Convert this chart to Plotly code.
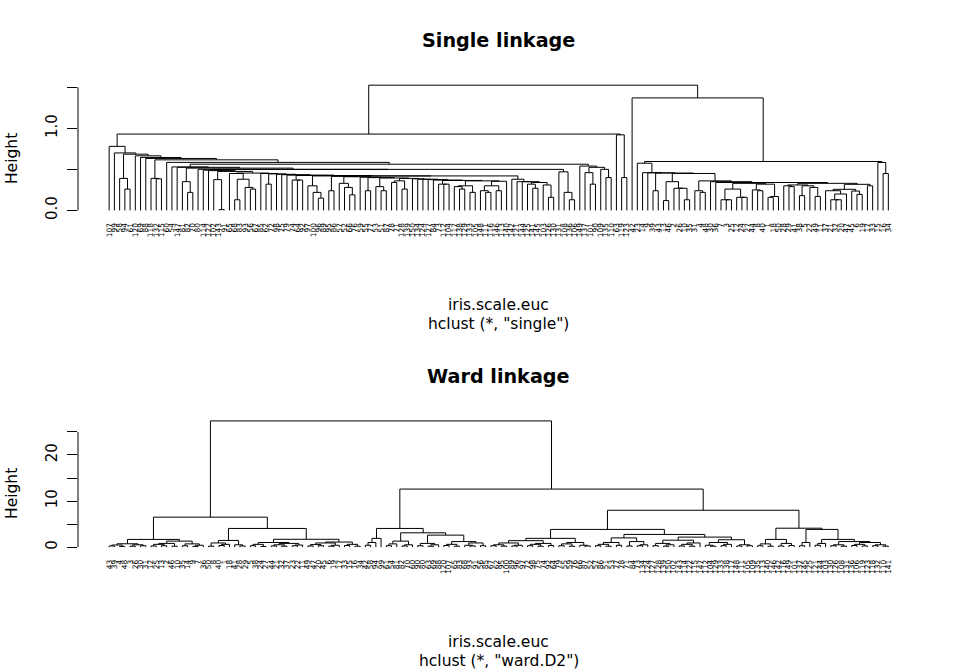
import plotly.graph_objects as go

# ---------------- data ----------------
single_labels = [
    107, 99, 58, 94, 61, 120, 69, 88, 118, 132,
    115, 60, 54, 147, 81, 82, 70, 80, 114, 122,
    102, 143, 91, 65, 68, 83, 93, 56, 67, 85,
    62, 72, 98, 75, 79, 74, 64, 92, 97, 100,
    96, 89, 95, 86, 57, 52, 66, 76, 59, 55,
    77, 53, 51, 87, 78, 71, 128, 139, 150, 134,
    124, 127, 84, 73, 112, 104, 117, 138, 129, 133,
    105, 148, 111, 116, 146, 113, 140, 142, 121, 144,
    125, 141, 145, 103, 126, 130, 131, 108, 136, 106,
    149, 137, 101, 90, 109, 135, 110, 63, 119, 123,
    42, 23, 14, 9, 39, 43, 13, 46, 2, 26,
    10, 35, 31, 4, 48, 30, 36, 7, 3, 25,
    12, 24, 27, 44, 8, 40, 1, 18, 50, 28,
    29, 41, 38, 5, 22, 49, 11, 37, 21, 32,
    20, 47, 45, 6, 19, 17, 33, 15, 16, 34,
]

single_heights = [
    0.78, 0.70, 0.39, 0.26, 0.685, 0.665, 0.645, 0.633, 0.39, 0.385,
    0.616, 0.585, 0.53, 0.525, 0.35, 0.22, 0.515, 0.50, 0.49, 0.485,
    0.375, 0.01, 0.475, 0.45, 0.13, 0.38, 0.28, 0.26, 0.455, 0.45,
    0.32, 0.445, 0.44, 0.435, 0.43, 0.37, 0.37, 0.425, 0.30, 0.22,
    0.15, 0.42, 0.24, 0.415, 0.33, 0.28, 0.19, 0.41, 0.405, 0.24,
    0.40, 0.29, 0.24, 0.395, 0.34, 0.36, 0.26, 0.39, 0.385, 0.38,
    0.38, 0.375, 0.37, 0.32, 0.32, 0.365, 0.29, 0.26, 0.30, 0.22,
    0.36, 0.24, 0.22, 0.30, 0.24, 0.355, 0.42, 0.38, 0.35, 0.35,
    0.32, 0.27, 0.34, 0.31, 0.16, 0.50, 0.47, 0.22, 0.13, 0.563,
    0.54, 0.46, 0.32, 0.525, 0.50, 0.40, 0.93, 0.92, 0.40, 1.525,
    1.37, 0.575, 0.46, 0.458, 0.24, 0.455, 0.12, 0.35, 0.27, 0.27,
    0.13, 0.45, 0.24, 0.22, 0.36, 0.35, 0.34, 0.13, 0.13, 0.26,
    0.16, 0.16, 0.33, 0.25, 0.24, 0.32, 0.16, 0.17, 0.34, 0.30,
    0.29, 0.31, 0.18, 0.30, 0.28, 0.17, 0.33, 0.24, 0.13, 0.13,
    0.20, 0.257, 0.236, 0.196, 0.318, 0.30, 0.596, 0.584, 0.45,
]

ward_labels = [
    43, 39, 4, 48, 3, 26, 30, 31, 12, 25,
    13, 2, 46, 10, 35, 14, 9, 7, 36, 50,
    8, 40, 1, 18, 41, 28, 29, 5, 38, 24,
    27, 44, 21, 32, 37, 23, 22, 11, 49, 47,
    20, 45, 6, 19, 17, 33, 15, 16, 34,
    42, 58, 94, 99, 61, 54, 81, 82, 70, 60,
    90, 80, 63, 69, 88, 120, 107, 65, 83, 68,
    93, 91, 56, 85,
    67, 62, 95, 100, 89, 96, 97, 72, 98, 75,
    74, 92, 64, 79, 55, 59, 76, 66, 87, 52,
    57, 86, 51, 53, 77, 78, 71, 84, 73, 134,
    124, 127, 128, 139, 150, 102, 143, 114, 122, 115,
    147, 112, 104, 129, 133, 138, 117, 148, 111, 105,
    109, 135, 113, 140, 146, 142, 116, 149, 101, 137,
    145, 125, 121, 144, 103, 130, 126, 108, 131, 136,
    106, 119, 123, 118, 132, 110, 141,
]

ward_heights = [
    0.25, 0.45, 0.15, 0.72, 0.20, 0.5, 0.30, 1.67, 0.25, 0.6,
    0.3, 0.8, 0.2, 1.3, 0.3, 0.7, 0.15, 0.4, 6.5, 0.2,
    0.9, 0.35, 0.6, 1.45, 0.5, 0.25, 4.05, 0.3, 0.6, 0.15,
    1.0, 0.25, 0.5, 0.2, 0.8, 0.3, 0.45, 1.7, 0.25, 0.55,
    0.3, 0.9, 0.2, 0.4, 1.1, 0.35, 0.6, 0.2, 27.4, 0.4,
    1.0, 1.9, 4.05, 0.3, 0.7, 1.3, 0.25, 0.5, 3.1, 0.3,
    0.8, 0.2, 0.5, 2.6, 0.35, 0.6, 0.2, 1.2, 0.4, 0.25,
    0.9, 0.3, 12.6, 0.3, 0.5, 0.2, 0.9, 0.25, 0.4, 1.4,
    0.3, 0.6, 0.2, 0.8, 0.35, 1.9, 0.3, 0.7, 0.2, 1.0,
    0.4, 0.25, 3.84, 0.3, 0.6, 0.2, 1.0, 0.4, 2.0, 0.25,
    1.2, 0.3, 0.5, 2.75, 0.3, 0.8, 0.2, 0.5, 1.5, 0.25,
    0.6, 0.2, 0.9, 2.17, 0.4, 0.2, 1.0, 0.3, 0.6, 1.6,
    0.25, 0.5, 0.3, 8.0, 0.3, 0.7, 0.2, 1.67, 0.25, 0.8,
    0.35, 4.1, 0.3, 1.0, 3.84, 0.4, 0.8, 1.67, 0.3, 0.5,
    0.2, 1.2, 0.35, 0.6, 0.25, 1.0, 0.3, 0.5, 0.2,
]

single_yticks = [0.0, 0.5, 1.0, 1.5]
single_yticktext = ["0.0", "", "1.0", ""]
ward_yticks = [0, 5, 10, 15, 20, 25]
ward_yticktext = ["0", "", "10", "", "20", ""]

# ---------------- helpers ----------------
W, H = 960, 672
VS = 1.0096  # vertical correction measured against the reference


def py(pix):
    return 1 - (pix * VS) / H


def px(pix):
    return pix / W


def dendro_lines(gaps):
    """Rebuild the binary tree from neighbour merge heights and return
    the R-style elbow segments (x in leaf units 1..n)."""
    xs, ys = [], []

    def build(lo, hi):
        if lo == hi:
            return lo + 1, 0.0
        part = gaps[lo:hi]
        k = lo + part.index(max(part))
        xl, hl = build(lo, k)
        xr, hr = build(k + 1, hi)
        h = gaps[k]
        xs.extend([xl, xl, xr, xr, None])
        ys.extend([hl, h, h, hr, None])
        return (xl + xr) / 2.0, h

    build(0, len(gaps))
    return xs, ys


FONT = "DejaVu Sans"
fig = go.Figure()

panels = [
    dict(labels=single_labels, heights=single_heights, ax="", yt=single_yticks,
         ytt=single_yticktext, top=80, bottom=215, title="Single linkage",
         title_y=40, ylab_y=158.7, xlab_y=304.6, sub_y=323.6,
         sub='hclust (*, "single")'),
    dict(labels=ward_labels, heights=ward_heights, ax="2", yt=ward_yticks,
         ytt=ward_yticktext, top=415, bottom=551, title="Ward linkage",
         title_y=375.5, ylab_y=493, xlab_y=640.6, sub_y=659.6,
         sub='hclust (*, "ward.D2")'),
]

x_left, x_right = 78.0, 919.5
annotations = []
shapes = []
layout_axes = {}
for p in panels:
    n = len(p["labels"])
    xs, ys = dendro_lines(p["heights"])
    fig.add_trace(go.Scatter(
        x=xs, y=ys, mode="lines", line=dict(color="black", width=1),
        hoverinfo="skip", showlegend=False,
        xaxis="x" + p["ax"], yaxis="y" + p["ax"]))

    ymax = max(p["heights"])
    lo = -0.04 * ymax
    hi = 1.04 * ymax
    xr = [1 - 0.04 * (n - 1), n + 0.04 * (n - 1)]

    layout_axes["xaxis" + p["ax"]] = dict(
        domain=[px(x_left), px(x_right)], range=xr, anchor="y" + p["ax"],
        tickmode="array", tickvals=[i + 1 for i in range(n)],
        ticktext=[str(v) for v in p["labels"]], tickangle=-90,
        ticklabelstandoff=5,
        tickfont=dict(family=FONT, size=7.5, color="black"),
        showgrid=False, zeroline=False, showline=False, ticks="",
        fixedrange=True)
    layout_axes["yaxis" + p["ax"]] = dict(
        domain=[py(p["bottom"]), py(p["top"])], range=[lo, hi],
        anchor="x" + p["ax"], tickmode="array", tickvals=p["yt"],
        ticktext=p["ytt"], tickangle=-90, ticks="outside", ticklen=10,
        tickcolor="black", tickwidth=1, ticklabelstandoff=4,
        tickfont=dict(family=FONT, size=15, color="black"),
        showgrid=False, zeroline=False, showline=False, fixedrange=True)

    shapes.append(dict(type="line", xref="x" + p["ax"] + " domain",
                       yref="y" + p["ax"], x0=0, x1=0,
                       y0=p["yt"][0], y1=p["yt"][-1],
                       line=dict(color="black", width=1)))

    cx = px((x_left + x_right) / 2)
    annotations += [
        dict(text="<b>" + p["title"] + "</b>", x=cx, y=py(p["title_y"]),
             xref="paper", yref="paper", showarrow=False,
             xanchor="center", yanchor="middle",
             font=dict(family=FONT, size=19.2, color="black")),
        dict(text="Height", x=px(12), y=py(p["ylab_y"]), xref="paper",
             yref="paper", showarrow=False, textangle=-90,
             xanchor="center", yanchor="middle",
             font=dict(family=FONT, size=15.5, color="black")),
        dict(text="iris.scale.euc", x=cx, y=py(p["xlab_y"]), xref="paper",
             yref="paper", showarrow=False, xanchor="center",
             yanchor="middle", font=dict(family=FONT, size=15.5, color="black")),
        dict(text=p["sub"], x=cx, y=py(p["sub_y"]), xref="paper",
             yref="paper", showarrow=False, xanchor="center",
             yanchor="middle", font=dict(family=FONT, size=15.5, color="black")),
    ]

fig.update_layout(
    width=W, height=H, margin=dict(l=0, r=0, t=0, b=0, pad=0),
    paper_bgcolor="white", plot_bgcolor="white",
    font=dict(family=FONT, color="black"),
    annotations=annotations, shapes=shapes, showlegend=False,
    **layout_axes)

fig.write_html("out.html")
